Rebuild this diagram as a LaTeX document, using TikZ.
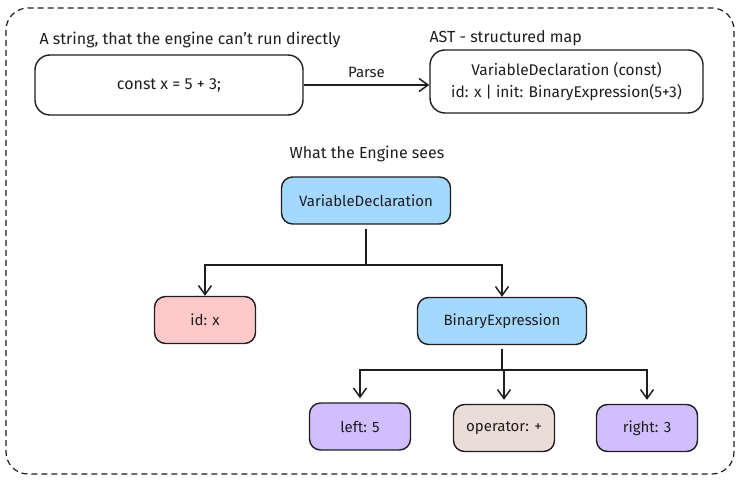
\documentclass[tikz,border=0pt]{standalone}
\usepackage{fontspec}
\setmainfont{Fira Sans}
\usetikzlibrary{arrows.meta,positioning}
\definecolor{inkdark}{HTML}{1E1E1E}
\definecolor{skyfill}{HTML}{A5D8FF}
\definecolor{rosefill}{HTML}{FFC9C9}
\definecolor{lilacfill}{HTML}{D0BFFF}
\definecolor{sandfill}{HTML}{EADDD7}
\begin{document}
\begin{tikzpicture}[x=1pt,y=-1pt,
    every node/.style={font=\fontsize{15}{18}\selectfont,text=inkdark},
    lbl/.style={font=\fontsize{16}{19}\selectfont},
    box/.style={draw=inkdark,line width=1.4pt,rounded corners=11pt,
      minimum width=#1,minimum height=47pt,inner sep=0pt,align=center},
    box/.default=101pt,
    conn/.style={draw=inkdark,line width=1.7pt},
    arr/.style={conn,-{Straight Barb[length=9pt,width=13pt,line width=1.5pt]}}]
  \useasboundingbox (0,0) rectangle (741,486);
  % outer frame
  \draw[inkdark,line width=1.2pt,dash pattern=on 6pt off 4pt,rounded corners=22pt]
    (6,8) rectangle (734,474);

  % source string and parsed map
  \node[lbl,anchor=west] (srclbl) at (36,40) {A string, that the engine can't run directly};
  \node[box=268pt,minimum height=60pt,rounded corners=15pt,
    font=\fontsize{16}{19}\selectfont] (src) at (169,85) {const x = 5 + 3;};
  \node[lbl,anchor=west] (astlbl) at (426,38) {AST - structured map};
  \node[box=273pt,minimum height=63pt,rounded corners=15pt,
    font=\fontsize{15.5}{22}\selectfont] (ast) at (566.5,81.5)
    {VariableDeclaration (const)\\id: x | init: BinaryExpression(5+3)};
  \draw[arr] (src.east) -- node[above=3pt] (parselbl) {Parse} (ast.west |- src.east);

  % tree
  \node[lbl] (treelbl) at (367,154) {What the Engine sees};
  \node[box=169pt,fill=skyfill] (vd) at (366,200.5) {VariableDeclaration};
  \node[box,fill=rosefill] (idx) at (205,320) {id: x};
  \node[box=169pt,fill=skyfill] (bin) at (502,321) {BinaryExpression};
  \node[box,fill=lilacfill] (lft) at (360,426.5) {left: 5};
  \node[box,fill=sandfill] (opr) at (504,428) {operator: +};
  \node[box,fill=lilacfill] (rgt) at (647,428) {right: 3};

  \coordinate (fork1) at (366,265);
  \coordinate (fork2) at (502,370);
  \draw[conn] ([yshift=-4pt]vd.south) -- (fork1);
  \draw[arr] (fork1) -| (idx.north);
  \draw[arr] (fork1) -| (bin.north);
  \draw[conn] ([yshift=-4pt]bin.south) -- (fork2);
  \foreach \leaf in {lft,opr,rgt} {
    \draw[arr] (fork2) -| ([yshift=4pt]\leaf.north);
  }
\end{tikzpicture}
\end{document}
